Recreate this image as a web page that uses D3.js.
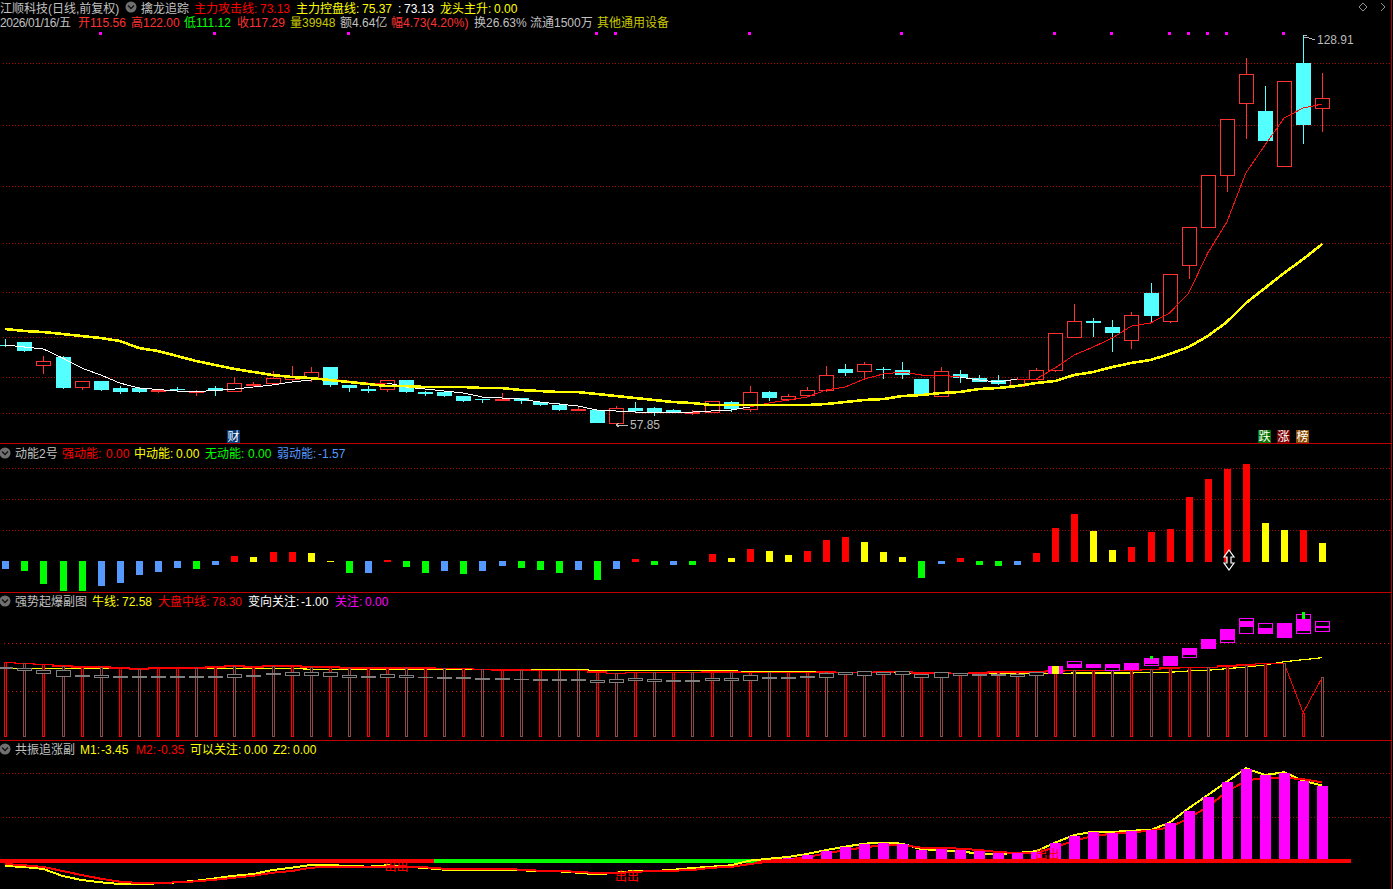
<!DOCTYPE html>
<html><head><meta charset="utf-8">
<script src="https://cdn.jsdelivr.net/npm/d3@7/dist/d3.min.js"></script>
<style>
html,body{margin:0;padding:0;background:#000;overflow:hidden}
svg{display:block;shape-rendering:crispEdges}
text{font-family:"Liberation Sans","Noto Sans CJK SC",sans-serif;font-size:12px;white-space:pre}
</style></head><body>
<script>
// ---- main chart: daily candles (price) ----
const open=[72.13,72.68,68.53,69.94,64.50,65.54,64.26,64.26,63.65,64.07,63.47,64.26,63.76,64.86,65.23,65.90,66.22,68.11,64.81,64.07,64.13,65.72,63.52,63.52,62.79,62.24,62.12,62.43,61.69,61.14,60.28,60.23,57.90,60.59,60.59,60.23,59.73,59.81,61.69,60.36,63.52,62.30,63.03,63.84,67.74,67.43,67.74,67.56,65.90,62.74,66.82,66.09,65.72,64.68,65.85,67.50,73.54,76.53,75.43,72.99,81.66,76.58,86.73,93.69,103.21,116.40,114.99,104.86,123.78,115.56];
const close=[71.95,71.03,69.15,64.26,65.49,63.89,63.52,63.52,63.95,63.84,63.65,63.76,65.12,65.05,66.09,66.22,67.13,64.81,64.26,63.71,65.67,63.52,63.16,62.79,61.88,62.06,62.30,61.93,61.14,60.23,60.41,57.90,60.54,60.05,59.86,59.86,59.92,61.82,60.41,63.47,62.43,62.74,63.84,66.59,67.00,68.60,67.56,66.64,63.03,67.32,66.14,65.41,65.05,65.85,67.50,74.28,76.47,76.16,74.33,77.57,77.44,85.08,93.69,103.21,113.47,121.71,109.55,120.43,112.43,117.29];
const high=[73.23,72.68,70.12,70.03,65.54,65.54,64.62,64.44,64.07,64.50,63.89,64.62,66.22,65.41,67.37,68.29,68.11,68.11,64.81,64.57,65.72,65.72,63.71,63.71,62.88,62.24,63.34,62.48,61.69,61.45,60.83,60.23,60.96,61.69,60.78,60.41,60.23,61.88,61.88,64.62,63.71,63.16,64.44,68.29,68.65,69.02,68.11,69.02,65.99,68.11,67.56,66.64,66.64,66.27,67.92,74.33,79.64,77.08,76.71,78.12,83.49,85.14,93.75,103.27,113.53,124.70,119.57,120.49,128.91,122.00];
const low=[71.77,70.85,66.82,64.07,63.95,63.71,63.21,63.34,63.34,63.65,62.79,62.79,63.71,64.50,64.75,65.49,65.36,64.44,63.52,63.34,63.52,63.34,62.79,62.61,61.69,61.51,61.88,61.33,60.96,60.05,60.23,57.90,57.85,59.95,59.13,59.63,59.31,59.68,59.86,59.92,61.88,61.88,62.61,63.52,66.46,65.72,65.90,65.90,62.79,62.67,65.23,65.36,64.81,64.62,65.72,67.19,73.41,73.60,70.85,71.40,76.35,76.16,84.22,93.56,100.21,109.92,109.50,104.73,109.00,111.12];
const fastLine=[72.13,71.77,71.40,69.75,67.92,66.64,65.17,64.26,63.98,63.71,63.62,63.80,64.07,64.44,64.81,65.36,65.72,65.90,65.54,65.17,65.17,64.44,64.07,63.71,63.34,62.61,62.43,62.24,61.69,61.33,60.96,60.23,60.05,59.86,59.86,59.86,59.86,60.05,60.23,60.78,61.51,62.06,62.61,63.89,64.44,65.90,66.82,67.19,66.64,66.64,66.27,65.72,65.36,65.90,65.90,67.92,70.30,71.77,73.42,75.61,76.16,78.00,81.66,88.98,94.66,103.69,108.76,113.71,115.54,116.27];
const fastLineWhite=[1,1,1,1,1,1,1,1,1,1,1,1,1,1,1,1,1,0,0,0,1,1,1,1,1,1,1,1,1,1,1,1,1,1,1,1,1,1,1,0,0,0,0,0,0,0,0,0,0,0,1,1,1,0,0,0,0,0,0,0,0,0,0,0,0,0,0,0,0,0];
const slowLine=[75.06,74.70,74.51,74.15,73.78,73.42,72.87,71.58,71.03,70.12,69.20,68.47,67.74,67.19,66.64,66.27,66.09,65.72,65.36,64.99,64.62,64.62,64.44,64.44,64.44,64.26,64.26,63.89,63.71,63.52,63.52,63.16,62.79,62.43,62.06,61.69,61.51,61.14,61.14,61.14,61.14,61.14,61.14,61.33,61.69,62.06,62.24,62.79,62.97,63.34,63.52,64.07,64.26,64.62,65.17,65.54,66.64,67.19,68.11,68.84,69.39,70.48,71.77,73.78,76.35,79.83,82.57,85.32,87.88,90.63];
const priceGrid=[123.78,112.43,101.23,90.81,81.84,73.60,66.27,59.68];
const signalDays=[5,11,18,31,32,39,47,55,58,61,62,63,64,67];

// ---- panel 2: 动能2号 ----
const energy=[-0.7,-0.9,-2.2,-2.9,-2.9,-2.4,-2.1,-1.4,-1.0,-0.6,-0.7,-0.3,0.6,0.5,1.0,1.0,0.9,0.1,-1.1,-1.1,0.2,-0.5,-1.1,-0.9,-1.2,-0.9,-0.4,-0.6,-0.8,-1.1,-0.8,-1.8,-0.7,0.3,-0.3,-0.3,-0.3,0.8,0.4,1.3,1.1,0.7,1.1,2.2,2.5,2.0,1.0,0.5,-1.7,-0.2,0.4,-0.3,-0.4,-0.3,0.9,3.4,4.8,3.1,1.2,1.5,3.0,3.3,6.5,8.3,9.3,9.8,3.9,3.2,3.2,1.9];
const energyKind=["b","g","g","g","g","b","b","b","b","b","g","b","r","y","r","r","y","y","g","b","r","g","g","b","g","b","b","g","g","g","b","g","b","r","g","b","g","r","y","r","y","y","r","r","r","y","y","y","g","b","r","g","g","b","r","r","r","y","y","r","r","r","r","r","r","r","y","y","r","y"];
const energyGrid=[3.15,6.25,9.35];

// ---- panel 3: 强势起爆副图 ----
const midLine=[37.35,36.85,36.35,35.5,35.15,35.15,34.65,34.15,34.65,34.65,34.65,35.15,35.65,35.15,35.65,35.65,35.15,35.15,34.65,34.65,34.65,34.65,34.65,34.35,34.35,33.85,33.5,33.5,33.35,33.35,33.35,32.5,31.85,32.35,32.35,32.35,32.35,32.65,32.65,32.35,32.35,32.35,32.35,32.5,32.35,32.35,32.65,32.85,32.15,32.15,31.85,32.15,32.65,32.5,32.65,33.15,33.35,33.35,33.35,33.35,33.85,34.65,34.85,34.85,35.5,36.15,36.85,36.85,12.15,29.85];
const bullLine=[34.35,34.35,34.35,34.35,34.35,34.35,34.35,34.35,34.35,34.35,34.35,34.35,34.35,34.35,34.35,34.35,33.85,33.85,33.85,33.85,33.85,33.85,33.85,33.85,33.85,33.85,33.85,33.85,33.85,33.85,33.85,33.15,33.15,33.15,33.15,33.15,33.15,33.15,33.15,32.65,32.65,32.65,32.65,32.35,32.35,32.35,32.35,31.85,31.85,31.85,31.85,31.85,31.85,31.65,31.65,31.65,32,32,32,32,32.35,32.35,33,33.35,34.15,35,36,37.65,38.65,39.65];
const brightStick=[1,0,1,0,1,0,1,0,1,1,0,1,0,1,0,1,0,1,0,1,1,0,1,0,1,0,1,0,1,0,0,1,0,1,0,1,0,1,0,1,0,1,1,0,1,0,1,0,1,0,1,1,1,1,0,1,0,1,0,1,0,1,1,0,1,0,1,0,1,0];
const boxTop=[34.85,34.35,33.35,33.35,30.85,30.85,30.35,30.35,30.35,30.35,30.35,30.35,31.35,30.85,31.85,32.35,32.35,32.35,30.85,30.35,31.35,30.85,29.85,29.85,29.85,29.35,29.35,29.15,28.85,28.85,28.85,28.35,28.85,29.35,28.85,28.35,28.35,29.35,29.35,30.85,29.85,29.85,30.35,32.15,32.35,32.85,32.35,32.85,31.35,32.35,31.85,31.5,31.5,31.5,32.5,35.5,37.85,36.5,36.5,37,39.5,40.5,44.5,49,54,59.5,57,57,61.5,58];
const boxBottom=[33.85,33.15,31.65,30.15,30.15,29.65,29.65,29.65,29.65,29.65,29.65,29.65,29.65,30.15,30.85,30.65,30.65,30.15,29.65,29.65,29.65,29.65,29.65,29.15,29.15,28.65,28.65,28.45,28.15,28.15,28.15,27.15,27.15,28.15,27.65,27.65,27.65,28.15,28.15,28.15,29.15,29.15,29.35,29.65,31.15,30.65,31.15,31.15,29.65,29.65,30.65,30.65,30.65,30,30.65,31.5,34.5,34.5,33.15,33.35,35.5,35.5,39.5,44,47,51.5,51.5,49.5,51.5,52.5];
const hotDay=[55,56,57,58,59,60,61,62,63,64,65,66,67,68,69];
const hotTop=[35.5,36.5,36,36.5,37,39.5,40.5,44.5,49,54,58,54.5,57,59,55.5];
const hotBottom=[31.5,34.5,35,34.5,33.35,36.5,35.5,41,44,48.5,55,51.5,49.5,53,54.5];
const kickDay=[60,68];
const kickFrom=[39,59];
const kickTo=[40.5,62.5];
const boxGrid=[47,23];

// ---- panel 4: 共振追涨副 ----
const m1=[-1.25,-1.5,-2,-3.75,-4.75,-5.33,-5.75,-5.83,-5.58,-5.33,-4.93,-4.33,-3.68,-3.25,-2.25,-1.68,-1,-1.08,-1.18,-1.43,-1.08,-1.43,-1.75,-2.18,-2.33,-2.33,-2.33,-2.33,-2.5,-2.58,-2.93,-3.33,-2.93,-2.43,-2.5,-2.18,-1.75,-1.43,-1.08,0.08,0.58,1,1.75,2.75,3.58,4.33,4.58,4.33,2.93,2.75,2.33,1.93,1.75,2,2.43,4.58,6.5,7.33,7.25,7.58,7.75,9.58,13.18,16.5,19.83,23.18,21.5,22.18,20.08,18.83];
const m2=[-0.75,-1.08,-1.5,-2.5,-3.5,-4.43,-5.18,-5.5,-5.5,-5.33,-5.08,-4.68,-4.18,-3.68,-2.93,-2.5,-1.68,-1.43,-1.43,-1.43,-1.43,-1.43,-1.58,-1.93,-1.93,-1.93,-1.93,-2.18,-2.43,-2.43,-2.75,-3,-3,-2.75,-2.43,-2.43,-2.25,-1.68,-1.5,-0.75,-0.18,0.43,0.93,1.93,2.68,3.43,3.93,4,3.33,3.33,3.08,2.75,2.25,2,2,3.43,5.08,6.25,6.83,7.18,7.58,8.43,10.68,13.58,17.33,20.08,20.83,20.83,20.43,19.68];
const oscBars=[0,0,0,0,0,0,0,0,0,0,0,0,0,0,0,0,0,0,0,0,0,0,0,0,0,0,0,0,0,0,0,0,0,0,0,0,0,0,0,0,0,0.75,1.5,2.5,3.5,4.25,4.5,4.25,2.75,3,2.75,2.5,2,2,2.25,4.5,6.25,7.25,7,7.5,7.75,9.5,12.5,16,19.75,23,21.5,22,20,18.75];
const bandBreaks=[-0.28,22.45,39.4,70.5];
const bandColors=["#ff0000","#00ff00","#ff0000"];
const exitMarks=[20.5,32.57,54.6];
const exitLevels=[-1.25,-3.75,1.75];
const oscGrid=[21.93,10.93];

// ---- text ----
const headerRuns=[
 [0,8,"江顺科技(日线,前复权)","#c0c0c0"],[141,8,"擒龙追踪","#c0c0c0"],[194,8,"主力攻击线:","#ff0000"],[260,8,"73.13","#ff0000"],[296,8,"主力控盘线:","#ffff00"],[362,8,"75.37","#ffff00"],[398,8,":","#ffffff"],[404,8,"73.13","#ffffff"],[440,8,"龙头主升:","#ffff00"],[494,8,"0.00","#ffff00"],
 [0,22,"2026/01/16/五","#c0c0c0"],[78,22,"开","#ff3232"],[90,22,"115.56","#ff3232"],[131,22,"高","#ff3232"],[143,22,"122.00","#ff3232"],[184,22,"低","#00ff00"],[196,22,"111.12","#00ff00"],[237,22,"收","#ff3232"],[249,22,"117.29","#ff3232"],[290,22,"量","#c8c800"],[302,22,"39948","#c8c800"],[340,22,"额","#c0c0c0"],[352,22,"4.64亿","#c0c0c0"],[391,22,"幅","#ff3232"],[403,22,"4.73(4.20%)","#ff3232"],[474,22,"换","#c0c0c0"],[486,22,"26.63%","#c0c0c0"],[530,22,"流通","#c0c0c0"],[554,22,"1500万","#c0c0c0"],[597,22,"其他通用设备","#c8c800"],
 [15,453,"动能2号","#c0c0c0"],[62,453,"强动能:","#ff0000"],[106,453,"0.00","#ff0000"],[134,453,"中动能:","#ffff00"],[176,453,"0.00","#ffff00"],[205,453,"无动能:","#00ff00"],[248,453,"0.00","#00ff00"],[277,453,"弱动能:","#5599ff"],[318,453,"-1.57","#5599ff"],
 [15,601,"强势起爆副图","#c0c0c0"],[92,601,"牛线:","#ffff00"],[122,601,"72.58","#ffff00"],[158,601,"大盘中线:","#ff0000"],[212,601,"78.30","#ff0000"],[248,601,"变向关注:","#ffffff"],[301,601,"-1.00","#ffffff"],[335,601,"关注:","#ff00ff"],[365,601,"0.00","#ff00ff"],
 [15,749,"共振追涨副","#c0c0c0"],[80,749,"M1:","#ffff00"],[101,749,"-3.45","#ffff00"],[136,749,"M2:","#ff0000"],[157,749,"-0.35","#ff0000"],[190,749,"可以关注:","#ffff00"],[244,749,"0.00","#ffff00"],[273,749,"Z2:","#ffff00"],[293,749,"0.00","#ffff00"]
];
const badges=[[227,"财","#003a78"],[1258,"跌","#007000"],[1277,"涨","#7a0000"],[1296,"榜","#8a4a00"]];
const chevrons=[[131,7],[5,453],[5,601],[5,749]];

// ---- build ----
const W=1393,H=889;
const svg=d3.select("body").append("svg").attr("width",W).attr("height",H);
svg.append("rect").attr("width",W).attr("height",H).attr("fill","#000");
const days=d3.range(open.length);
const x=d3.scaleLinear().domain([0,69]).range([5.3,1322.3]);
const px=i=>Math.round(x(i));
const yP=d3.scaleLinear().domain([57.85,128.91]).range([423,35]);
const yE=d3.scaleLinear().domain([0,10]).range([561.5,461.5]);
const yB=d3.scaleLinear().domain([0,72]).range([737,593]);
const yO=d3.scaleLinear().domain([0,30]).range([861,741]);
const UP="#ff3232",CY="#54ffff";

// dotted grids as 1px patterned strips
const defs=svg.append("defs");
function dots(id,period,color){
  const p=defs.append("pattern").attr("id",id).attr("patternUnits","userSpaceOnUse").attr("width",period).attr("height",1);
  p.append("rect").attr("width",1).attr("height",1).attr("fill",color);
}
dots("dotA",3,"#b00000");
dots("dotB",4,"#e00000");
function grid(vals,y,id){
  svg.append("g").selectAll("rect").data(vals).join("rect")
    .attr("x",2).attr("width",1388).attr("y",d=>Math.round(y(d))).attr("height",1)
    .attr("fill",`url(#${id})`);
}
grid(priceGrid,yP,"dotA");
grid(energyGrid,yE,"dotA");
grid(boxGrid,yB,"dotB");
grid(oscGrid,yO,"dotA");

// frame
[443.5,592.5,740.5].forEach(v=>svg.append("line").attr("x1",0).attr("x2",1391).attr("y1",v).attr("y2",v).attr("stroke","#c00000"));
svg.append("line").attr("x1",1391.5).attr("x2",1391.5).attr("y1",0).attr("y2",H).attr("stroke","#b00000");

// signals
svg.append("g").selectAll("rect").data(signalDays).join("rect")
  .attr("x",d=>px(d)-2).attr("y",32).attr("width",3).attr("height",3).attr("fill","#ff00ff");

// candles
const cg=svg.append("g");
days.forEach(i=>{
  const up=close[i]>=open[i],c=up?UP:CY,cx=px(i);
  const t=Math.round(yP(Math.max(open[i],close[i]))),b=Math.round(yP(Math.min(open[i],close[i])));
  cg.append("line").attr("x1",cx+.5).attr("x2",cx+.5).attr("y1",Math.round(yP(high[i]))).attr("y2",Math.round(yP(low[i]))).attr("stroke",c);
  if(up){
    cg.append("rect").attr("x",cx-7+.5).attr("y",t+.5).attr("width",14).attr("height",Math.max(1,b-t)).attr("fill","#000").attr("stroke",c);
  }else{
    cg.append("rect").attr("x",cx-7).attr("y",t).attr("width",15).attr("height",Math.max(1,b-t)).attr("fill",c);
  }
});
// fast line in coloured runs
const lineOf=(y,data)=>d3.line().x(i=>x(i)).y(i=>y(data[i]));
for(let i=0;i<days.length-1;i++){
  svg.append("path").attr("d",lineOf(yP,fastLine)([i,i+1])).attr("fill","none")
    .attr("stroke",fastLineWhite[i]?"#ffffff":"#ff1010").attr("stroke-width",1);
}
svg.append("path").attr("d",lineOf(yP,slowLine)(days)).attr("fill","none").attr("stroke","#ffff00").attr("stroke-width",2.6);

// extremes
const lowIdx=d3.least(days,i=>low[i]),highIdx=d3.greatest(days,i=>high[i]);
const ax=px(lowIdx),ay=Math.round(yP(low[lowIdx]))+2;
svg.append("path").attr("d",`M${ax},${ay}h12M${ax},${ay}l3,-2M${ax},${ay}l3,2`).attr("stroke","#bbb").attr("fill","none");
svg.append("text").attr("x",ax+14).attr("y",ay+4).attr("fill","#bbb").text(d3.format(".2f")(low[lowIdx]));
svg.append("path").attr("d",`M${px(highIdx)+.5},${yP(high[highIdx])}h3M${px(highIdx)+.5},${yP(high[highIdx])+2}h3l8,3`).attr("stroke","#bbb").attr("fill","none");
svg.append("text").attr("x",px(highIdx)+14).attr("y",yP(high[highIdx])+9).attr("fill","#bbb").text(d3.format(".2f")(high[highIdx]));

// badges
badges.forEach(([bx,t,c])=>{
  svg.append("rect").attr("x",bx).attr("y",430).attr("width",13).attr("height",13).attr("fill",c);
  svg.append("text").attr("x",bx+6.5).attr("y",441).attr("text-anchor","middle").attr("fill","#fff").style("font-size","12px").text(t);
});

// panel 2
const eColor={r:"#ff0000",y:"#ffff00",g:"#00ff00",b:"#5599ff"};
svg.append("g").selectAll("rect").data(days).join("rect")
  .attr("x",i=>px(i)-3).attr("width",7)
  .attr("y",i=>energy[i]>=0?Math.round(yE(energy[i])):561)
  .attr("height",i=>energy[i]>=0?Math.max(1,562-Math.round(yE(energy[i]))):Math.round(yE(energy[i]))-561)
  .attr("fill",i=>eColor[energyKind[i]]);
// pointer
svg.append("path").attr("d","M1229,550l5,7h-3v6h3l-5,7l-5,-7h3v-6h-3z").attr("fill","#000").attr("stroke","#fff").attr("stroke-width",1.2).style("shape-rendering","auto");

// panel 3
svg.append("path").attr("d",lineOf(yB,bullLine)(days)).attr("fill","none").attr("stroke","#ffff00").attr("stroke-width",1.2);
svg.append("path").attr("d",d3.line().x(i=>x(i)).y(i=>yB(midLine[i])).curve(d3.curveStep)(days.slice(0,68))).attr("fill","none").attr("stroke","#ff0000").attr("stroke-width",1.6);
svg.append("path").attr("d",lineOf(yB,midLine)([67,68,69])).attr("fill","none").attr("stroke","#ff0000").attr("stroke-width",1);
svg.append("g").selectAll("rect").data(days).join("rect")
  .attr("x",i=>px(i)-1+.5).attr("width",2)
  .attr("y",i=>Math.round(yB(midLine[i]))+.5).attr("height",i=>736-Math.round(yB(midLine[i])))
  .attr("fill","#000")
  .attr("stroke",i=>brightStick[i]?"#ff0000":"#904848");
const hot=new Set(hotDay);
days.forEach(i=>{
  const c=hot.has(i)?"#ff00ff":"#808080",t=Math.round(yB(boxTop[i])),b=Math.round(yB(boxBottom[i])),cx=px(i);
  if(b-t<=2){
    svg.append("rect").attr("x",cx-7).attr("y",t).attr("width",15).attr("height",Math.max(1,b-t)).attr("fill",c);
  }else{
    svg.append("rect").attr("x",cx-6.5).attr("y",t+.5).attr("width",14).attr("height",b-t-1).attr("fill","#000").attr("stroke",c);
  }
});
hotDay.forEach((d,k)=>{
  const t=Math.round(yB(hotTop[k])),b=Math.round(yB(hotBottom[k]));
  svg.append("rect").attr("x",px(d)-7).attr("y",t).attr("width",15).attr("height",b-t).attr("fill","#ff00ff");
});
svg.append("rect").attr("x",px(55)-3).attr("y",yB(hotTop[0])).attr("width",7).attr("height",yB(hotBottom[0])-yB(hotTop[0])).attr("fill","#ffff00");
kickDay.forEach((d,k)=>{
  svg.append("rect").attr("x",px(d)-1).attr("y",yB(kickTo[k])).attr("width",3).attr("height",yB(kickFrom[k])-yB(kickTo[k])).attr("fill","#00ff00");
});

// panel 4
bandColors.forEach((c,k)=>{
  svg.append("rect").attr("x",x(bandBreaks[k])).attr("width",x(bandBreaks[k+1])-x(bandBreaks[k]))
    .attr("y",859).attr("height",4).attr("fill",c);
});
svg.append("path").attr("d",lineOf(yO,m1)(days)).attr("fill","none").attr("stroke","#ffff00").attr("stroke-width",2);
svg.append("path").attr("d",lineOf(yO,m2)(days)).attr("fill","none").attr("stroke","#ff0000").attr("stroke-width",2);
svg.append("g").selectAll("rect").data(days.filter(i=>oscBars[i]>0)).join("rect")
  .attr("x",i=>px(i)-5).attr("width",11)
  .attr("y",i=>Math.round(yO(oscBars[i]))).attr("height",i=>859-Math.round(yO(oscBars[i])))
  .attr("fill","#ff00ff");
exitMarks.forEach((m,k)=>{
  svg.append("text").attr("x",x(m)).attr("y",yO(exitLevels[k])+5).attr("text-anchor","middle").attr("fill","#ff0000").text("出出");
});

// chevrons and texts
chevrons.forEach(([cx,cy])=>{
  svg.append("circle").attr("cx",cx).attr("cy",cy).attr("r",5.5).attr("fill","#707070").style("shape-rendering","auto");
  svg.append("path").attr("d",`M${cx-3},${cy-1.5}l3,3l3,-3`).attr("fill","none").attr("stroke","#111").attr("stroke-width",1.3).style("shape-rendering","auto");
});
svg.append("g").selectAll("text").data(headerRuns).join("text")
  .attr("x",d=>d[0]).attr("y",d=>d[1]+4.5).attr("fill",d=>d[3]).text(d=>d[2])
  .attr("letter-spacing",d=>d[2].startsWith("2026")?"-0.4px":null);
// window controls
svg.append("path").attr("d","M1363,3l4,4l-4,4l-4,-4zM1381,3l4,4l-4,4").attr("fill","none").attr("stroke","#909090").style("shape-rendering","auto");
</script>
</body></html>
